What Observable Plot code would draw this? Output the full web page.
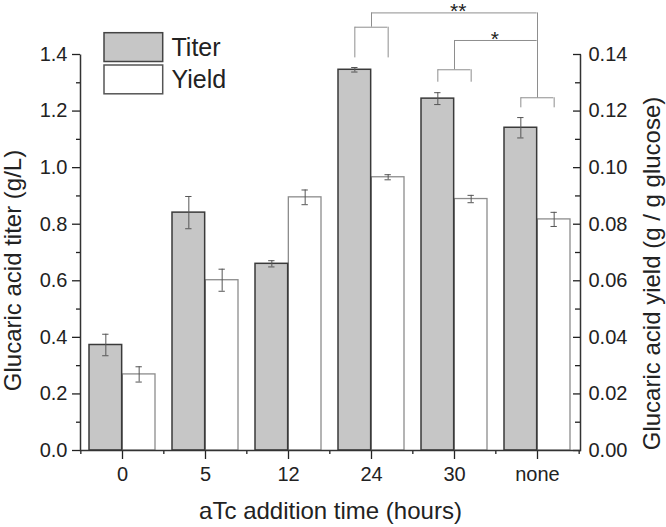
<!DOCTYPE html>
<html><head><meta charset="utf-8">
<script src="https://cdn.jsdelivr.net/npm/d3@7"></script>
<script src="https://cdn.jsdelivr.net/npm/@observablehq/plot@0.6"></script>
<style>
html,body{margin:0;padding:0;background:#fff;}
#chart{width:666px;height:527px;}
</style></head><body><div id="chart"></div>
<script>
// ---- data ----
const categories = ["0", "5", "12", "24", "30", "none"];
const titerValues = [0.373, 0.841, 0.660, 1.346, 1.244, 1.141];
const titerErrors = [0.038, 0.057, 0.011, 0.008, 0.021, 0.036];
const yieldValues = [0.0269, 0.0602, 0.0895, 0.0966, 0.0889, 0.0817];
const yieldErrors = [0.0027, 0.0039, 0.0026, 0.0009, 0.0013, 0.0025];
const titerTicks = [0, 0.2, 0.4, 0.6, 0.8, 1.0, 1.2, 1.4];
const titerMinorTicks = [0.1, 0.3, 0.5, 0.7, 0.9, 1.1, 1.3];
const yieldTicks = [0, 0.02, 0.04, 0.06, 0.08, 0.10, 0.12, 0.14];
const yieldMinorTicks = [0.01, 0.03, 0.05, 0.07, 0.09, 0.11, 0.13];
const seriesNames = ["Titer", "Yield"];
// significance brackets (in titer units)
const bracketGroups = ["24", "30", "none"];
const bracketLegBase = [1.388, 1.302, 1.2115];
const bracketLevel = [1.4965, 1.346, 1.247];
const compareFrom = ["24", "30"];
const compareTo = ["none", "none"];
const compareLevel = [1.547, 1.4495];
const compareLabel = ["**", "*"];
const xTitle = "aTc addition time (hours)";
const yLeftTitle = "Glucaric acid titer (g/L)";
const yRightTitle = "Glucaric acid yield (g / g glucose)";

// ---- layout ----
const W = 666, H = 527, mL = 80, mR = 86, mT = 54, mB = 77;
const fw = W - mL - mR, fh = H - mT - mB;
const pIn = 0.2, pOut = 0.1;
const step = fw / (categories.length - pIn + 2 * pOut);
const bw = step * (1 - pIn);
const q = bw / 4;
const cap = 7;
const ratio = titerTicks[titerTicks.length - 1] / yieldTicks[yieldTicks.length - 1];

const rows = categories.map((c, i) => ({
  cat: c, titer: titerValues[i], titerErr: titerErrors[i],
  yld: yieldValues[i] * ratio, yldErr: yieldErrors[i] * ratio
}));
const groups = bracketGroups.map((c, i) => ({cat: c, base: bracketLegBase[i], level: bracketLevel[i]}));
const comps = compareFrom.map((f, i) => ({from: f, to: compareTo[i], level: compareLevel[i], label: compareLabel[i]}));
const stems = [];
comps.forEach(c => {
  const gf = groups.find(g => g.cat === c.from), gt = groups.find(g => g.cat === c.to);
  stems.push({cat: c.from, y1: gf.level, y2: c.level});
  stems.push({cat: c.to, y1: gt.level, y2: c.level});
});

const bracketStroke = "#8e8e8e";
const errStroke = "#555";
const font = "Liberation Sans, Arial, Helvetica, sans-serif";

const marks = [
  // bars
  Plot.barY(rows, {x: "cat", y: "yld", insetLeft: bw / 2, fill: "#ffffff", stroke: "#8c8c8c", strokeWidth: 1.3}),
  Plot.barY(rows, {x: "cat", y: "titer", insetRight: bw / 2, fill: "#c6c6c6", stroke: "#3a3a3a", strokeWidth: 1.5}),
  // error bars
  Plot.ruleX(rows, {x: "cat", dx: -q, y1: d => d.titer - d.titerErr, y2: d => d.titer + d.titerErr, stroke: errStroke, strokeWidth: 1}),
  Plot.tickY(rows, {x: "cat", y: d => d.titer + d.titerErr, insetLeft: q - cap / 2, insetRight: 3 * q - cap / 2, stroke: errStroke, strokeWidth: 1}),
  Plot.tickY(rows, {x: "cat", y: d => d.titer - d.titerErr, insetLeft: q - cap / 2, insetRight: 3 * q - cap / 2, stroke: errStroke, strokeWidth: 1}),
  Plot.ruleX(rows, {x: "cat", dx: q, y1: d => d.yld - d.yldErr, y2: d => d.yld + d.yldErr, stroke: errStroke, strokeWidth: 1}),
  Plot.tickY(rows, {x: "cat", y: d => d.yld + d.yldErr, insetLeft: 3 * q - cap / 2, insetRight: q - cap / 2, stroke: errStroke, strokeWidth: 1}),
  Plot.tickY(rows, {x: "cat", y: d => d.yld - d.yldErr, insetLeft: 3 * q - cap / 2, insetRight: q - cap / 2, stroke: errStroke, strokeWidth: 1}),
  // brackets
  Plot.tickY(groups, {x: "cat", y: "level", insetLeft: q, insetRight: q, stroke: bracketStroke, strokeWidth: 1}),
  Plot.ruleX(groups, {x: "cat", dx: -q, y1: "base", y2: "level", stroke: bracketStroke, strokeWidth: 1}),
  Plot.ruleX(groups, {x: "cat", dx: q, y1: "base", y2: "level", stroke: bracketStroke, strokeWidth: 1}),
  Plot.ruleX(stems, {x: "cat", y1: "y1", y2: "y2", stroke: bracketStroke, strokeWidth: 1}),
  Plot.ruleY(comps, {x1: "from", x2: "to", y: "level", insetLeft: bw / 2, insetRight: bw / 2, stroke: bracketStroke, strokeWidth: 1}),
  ...comps.map(c => Plot.text([c], {
    x: "to", y: "level", text: "label",
    dx: -(categories.indexOf(c.to) - categories.indexOf(c.from)) * step / 2 + (c.label.length > 1 ? 4 : -1),
    dy: -1.5, fontSize: 21, lineAnchor: "middle", textAnchor: "middle", fill: "#222"
  })),
  // axes
  Plot.axisX({tickSize: 9, tickPadding: 7, fontSize: 20, label: null, strokeWidth: 1.3}),
  Plot.axisX(categories, {tickSize: 4, dx: -step / 2, tickFormat: () => "", label: null, strokeWidth: 1.3}),
  Plot.axisX([categories[categories.length - 1]], {tickSize: 4, dx: step / 2, tickFormat: () => "", label: null, strokeWidth: 1.3}),
  Plot.axisY(titerTicks, {anchor: "left", tickSize: 8, tickPadding: 5, tickFormat: d => d.toFixed(1), fontSize: 20, label: null, strokeWidth: 1.3}),
  Plot.axisY(titerMinorTicks, {anchor: "left", tickSize: 4, tickFormat: () => "", label: null, strokeWidth: 1.3}),
  Plot.axisY(yieldTicks.map(t => t * ratio), {anchor: "right", tickSize: 8, dx: -8, tickPadding: 8, tickFormat: d => (d / ratio).toFixed(2), fontSize: 20, label: null, strokeWidth: 1.3}),
  Plot.axisY(yieldMinorTicks.map(t => t * ratio), {anchor: "right", tickSize: 6, dx: -6, tickFormat: () => "", label: null, strokeWidth: 1.3}),
  // axis lines (left, bottom, right)
  Plot.frame({stroke: "#333", strokeWidth: 1.5, fill: "none", strokeDasharray: `0 ${fw} ${fw + 2 * fh}`}),
  // axis titles
  Plot.text([yLeftTitle], {text: d => d, frameAnchor: "left", rotate: -90, dx: -67.5, dy: 18, fontSize: 24, textAnchor: "middle", lineAnchor: "middle", fill: "#222"}),
  Plot.text([yRightTitle], {text: d => d, frameAnchor: "right", rotate: -90, dx: 72, dy: 21, fontSize: 24, textAnchor: "middle", lineAnchor: "middle", fill: "#222"}),
  Plot.text([xTitle], {text: d => d, frameAnchor: "bottom", dy: 61, fontSize: 24, textAnchor: "middle", lineAnchor: "middle", fill: "#222"})
];

const chart = Plot.plot({
  width: W, height: H,
  marginLeft: mL, marginRight: mR, marginTop: mT, marginBottom: mB,
  style: {fontFamily: font, color: "#222", background: "#fff", overflow: "visible"},
  x: {type: "band", domain: categories, paddingInner: pIn, paddingOuter: pOut, align: 0.5},
  y: {domain: [0, titerTicks[titerTicks.length - 1]]},
  marks
});
document.getElementById("chart").appendChild(chart);

// legend (inside plot area, top-left)
const svg = d3.select(chart);
const lg = svg.append("g").attr("font-family", font).attr("text-anchor", "start");
const legendFill = ["#c6c6c6", "#ffffff"];
const legendStroke = ["#444", "#555"];
const legendY = [32.7, 65];
seriesNames.forEach((name, i) => {
  lg.append("rect").attr("x", 104).attr("y", legendY[i]).attr("width", 58.7).attr("height", 28.8)
    .attr("fill", legendFill[i]).attr("stroke", legendStroke[i]).attr("stroke-width", 1.5);
  lg.append("text").attr("x", 171.5).attr("y", legendY[i] + 23).attr("font-size", 25)
    .attr("text-anchor", "start").attr("fill", "#222").text(name);
});
</script></body></html>
